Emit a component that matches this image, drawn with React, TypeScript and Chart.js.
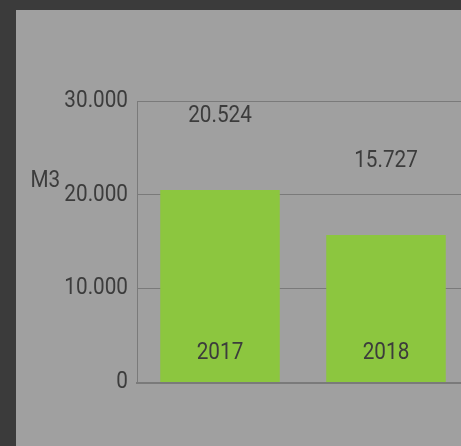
import React, { useEffect, useRef } from "react";
import { Chart, registerables } from "chart.js";

Chart.register(...registerables);

const categories = ["2017", "2018"];
const volumes = [20524, 15727];
const yTicks = [0, 10000, 20000, 30000];
const unitLabel = "M3";

const fmt = (v: number) => String(Math.round(v)).replace(/\B(?=(\d{3})+(?!\d))/g, ".");

export default function App() {
  const ref = useRef<HTMLCanvasElement>(null);

  useEffect(() => {
    document.body.style.margin = "0";
    const canvas = ref.current as HTMLCanvasElement;
    const ctx2d = canvas.getContext("2d") as CanvasRenderingContext2D;
    // condensed lettering: squeeze text horizontally around its anchor
    const sx = 0.9;
    const origFill = ctx2d.fillText;
    (ctx2d as any).fillText = function (text: string, x: number, y: number, maxWidth?: number) {
      ctx2d.save();
      ctx2d.translate(x, y);
      ctx2d.scale(sx, 1);
      if (maxWidth !== undefined) origFill.call(ctx2d, text, 0, 0, maxWidth / sx);
      else origFill.call(ctx2d, text, 0, 0);
      ctx2d.restore();
    };

    const fontSize = 23;
    const font = { family: "Roboto", size: fontSize };
    const textColor = "#3c3c3c";
    const gridColor = "#7a7a7a";

    const labelPlugin = {
      id: "valueLabels",
      afterDatasetsDraw(chart: any) {
        const ctx = chart.ctx;
        const meta = chart.getDatasetMeta(0);
        ctx.save();
        ctx.font = `${fontSize}px Roboto`;
        ctx.fillStyle = textColor;
        ctx.textAlign = "center";
        ctx.textBaseline = "middle";
        meta.data.forEach((bar: any, i: number) => {
          ctx.fillText(fmt(volumes[i]), bar.x, bar.y - 74);
        });
        ctx.textAlign = "left";
        ctx.fillText(unitLabel, 14.5, 171);
        ctx.restore();
      },
    };

    const chart = new Chart(canvas, {
      type: "bar",
      data: {
        labels: categories,
        datasets: [
          {
            data: volumes,
            backgroundColor: "#8cc63f",
            borderWidth: 0,
            categoryPercentage: 0.8,
            barPercentage: 0.9,
          },
        ],
      },
      options: {
        animation: false,
        responsive: false,
        maintainAspectRatio: false,
        layout: { padding: { left: 0, top: 91, right: 17, bottom: 53.5 } },
        plugins: { legend: { display: false }, tooltip: { enabled: false } },
        scales: {
          x: {
            grid: { display: false, drawTicks: false },
            border: { display: true, color: gridColor, width: 2 },
            ticks: { font, color: textColor, mirror: true, padding: 15, z: 1, maxRotation: 0 },
            afterFit: (s: any) => {
              s.height = 10;
            },
          },
          y: {
            min: 0,
            max: 30000,
            afterBuildTicks: (s: any) => {
              s.ticks = yTicks.map((v) => ({ value: v }));
            },
            grid: { color: gridColor, drawTicks: false },
            border: { display: true, color: gridColor, width: 1 },
            ticks: { font, color: textColor, padding: 9, callback: (v: any) => fmt(Number(v)) },
            afterFit: (s: any) => {
              s.width = 121;
            },
          },
        },
      } as any,
      plugins: [labelPlugin],
    });
    return () => {
      chart.destroy();
      (ctx2d as any).fillText = origFill;
    };
  }, []);

  return (
    <div
      style={{
        position: "fixed",
        left: 0,
        top: 0,
        width: 461,
        height: 446,
        background: "#3b3b3b",
        overflow: "hidden",
      }}
    >
      <div
        style={{
          position: "absolute",
          left: 16,
          top: 10,
          width: 470,
          height: 436,
          background: "#a0a0a0",
        }}
      >
        <canvas ref={ref} width={470} height={436} style={{ display: "block" }} />
      </div>
    </div>
  );
}
